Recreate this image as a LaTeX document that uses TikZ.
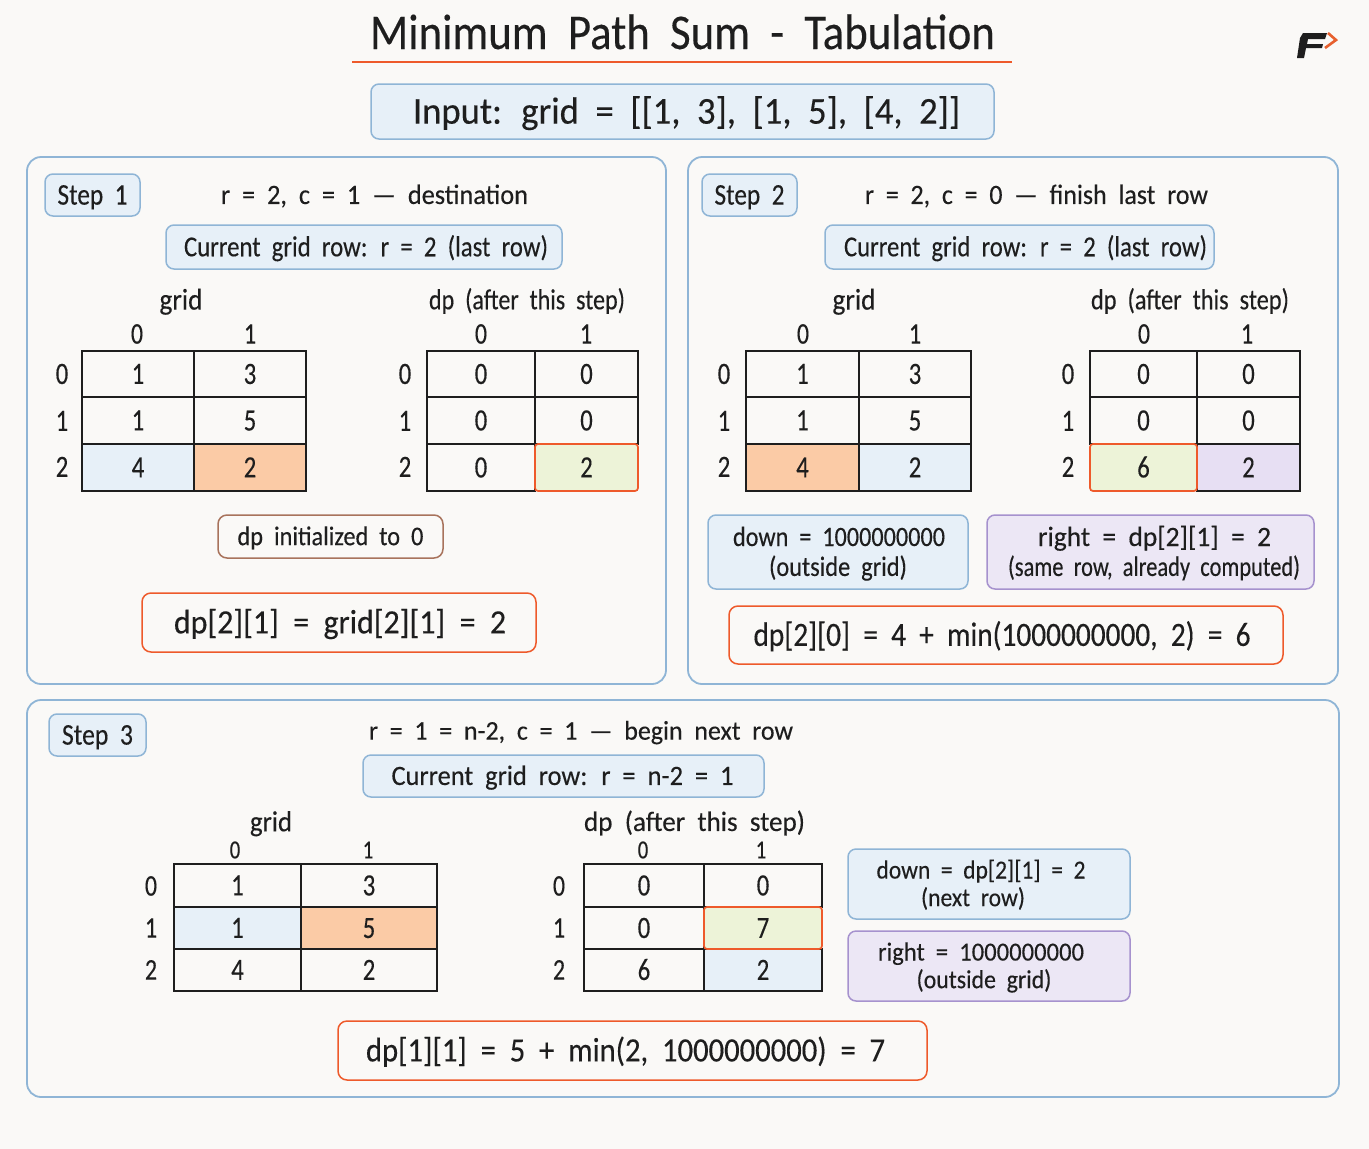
\documentclass[tikz,border=0pt]{standalone}
\usepackage{fontspec}
\usepackage{graphicx}
\setmainfont[FakeStretch=0.8,WordSpace=2.0,FakeBold=0.25]{Carlito}
\definecolor{bgc}{HTML}{FAF9F7}
\definecolor{bluel}{HTML}{8FB5D6}
\definecolor{bluef}{HTML}{E7F0F8}
\definecolor{orl}{HTML}{EE5A2B}
\definecolor{orf}{HTML}{FBCBA6}
\definecolor{grf}{HTML}{EDF3D8}
\definecolor{puf}{HTML}{E7DFF3}
\definecolor{pub}{HTML}{ECE7F5}
\definecolor{pul}{HTML}{A692CE}
\definecolor{brl}{HTML}{A8735C}
\definecolor{ink}{HTML}{1E1E1E}
\newcommand{\st}{\rule[-.25em]{0pt}{1.14em}}
\newcommand{\W}[2]{\resizebox{#1pt}{\height}{#2}}
\newcommand{\SH}[1]{\hspace*{#1pt}}
\tikzset{
 x=1pt,y=-1pt,
 txt/.style={text=ink,inner sep=0pt,align=center},
 fs/.style={font=\fontsize{#1}{#1}\selectfont},
 panel/.style={draw=bluel,line width=1.8pt,rounded corners=14pt},
 bluebox/.style={draw=bluel,fill=bluef,line width=1.5pt,rounded corners=8pt},
 purplebox/.style={draw=pul,fill=pub,line width=1.5pt,rounded corners=8pt},
 formula/.style={draw=orl,line width=1.5pt,rounded corners=9pt},
 brownbox/.style={draw=brl,line width=1.5pt,rounded corners=9pt},
 plain/.style={draw=ink,fill=bgc,line width=1.2pt},
 cblue/.style={draw=ink,fill=bluef,line width=1.2pt},
 corange/.style={draw=ink,fill=orf,line width=1.2pt},
 cpurple/.style={draw=ink,fill=puf,line width=1.2pt},
 cgreen/.style={draw=orl,fill=grf,line width=1.7pt,rounded corners=3pt},
}
\newcommand{\bx}[8]{\path[#6] (#2,#3) rectangle (#4,#5) node[midway,txt,fs=#7] (#1) {\st#8};}
\newcommand{\lb}[5]{\node[txt,fs=#4] (#1) at (#2,#3) {\st#5};}
\newcommand{\tbl}[9]{%
 \def\pr{#1}\def\xa{#2}\def\xb{#3}\def\xc{#4}\def\ya{#5}\def\yb{#6}\def\yc{#7}\def\yd{#8}\def\fz{#9}}
\newcommand{\cellrow}[7]{%
 \bx{\pr#1a}{\xa}{#2}{\xb}{#3}{#4}{\fz}{#5}
 \bx{\pr#1b}{\xb}{#2}{\xc}{#3}{#6}{\fz}{#7}}
\begin{document}
\begin{tikzpicture}
\useasboundingbox[fill=bgc] (0,0) rectangle (1369,1149);
% title
\node[txt,fs=50] (title) at (682.5,33) {\st\W{625}{Minimum Path Sum - Tabulation}};
\coordinate (ula) at (352,62); \coordinate (ulb) at (1012,62);
\draw[orl,line width=2.6pt] (ula) -- (ulb);
% logo
\fill[ink] (1303,33) -- (1327,33) -- (1325,39) -- (1308,39) -- (1307,44) -- (1323,44) -- (1322,48) -- (1306,48) -- (1304,58) -- (1297,58) -- (1300,38) -- cycle;
\draw[orl!85!brown,line width=2.6pt] (1328,33) -- (1336,40) -- (1325,48);
\bx{input}{371}{84}{994}{139}{bluebox}{38}{\SH{8}\W{547}{Input: grid = [[1, 3], [1, 5], [4, 2]]}}
% panels
\path[panel] (27,157) rectangle (666,684);
\path[panel] (688,157) rectangle (1338,684);
\path[panel] (27,700) rectangle (1339,1097);
% Step 1
\bx{s1b}{45}{174}{140}{216}{bluebox}{30}{\W{70}{Step 1}}
\lb{s1h}{374.5}{195}{28}{\W{307}{r = 2, c = 1 — destination}}
\bx{s1c}{166}{225}{562}{269}{bluebox}{29}{\SH{4}\W{364}{Current grid row: r = 2 (last row)}}
\lb{s1g}{181}{300}{30}{\W{43}{grid}}
\lb{s1d}{527}{300}{29}{\W{196}{dp (after this step)}}
\lb{s1gc0}{137}{334}{30}{0}\lb{s1gc1}{250}{334}{30}{1}
\lb{s1gr0}{62}{374}{31}{0}\lb{s1gr1}{62}{421}{31}{1}\lb{s1gr2}{62}{467}{31}{2}
\tbl{sa}{82}{194}{306}{351}{397}{444}{491}{31}
\cellrow{0}{351}{397}{plain}{1}{plain}{3}
\cellrow{1}{397}{444}{plain}{1}{plain}{5}
\cellrow{2}{444}{491}{cblue}{4}{corange}{2}
\lb{s1dc0}{481}{334}{30}{0}\lb{s1dc1}{586}{334}{30}{1}
\lb{s1dr0}{405}{374}{31}{0}\lb{s1dr1}{405}{421}{31}{1}\lb{s1dr2}{405}{467}{31}{2}
\tbl{sb}{427}{535}{638}{351}{397}{444}{491}{31}
\cellrow{0}{351}{397}{plain}{0}{plain}{0}
\cellrow{1}{397}{444}{plain}{0}{plain}{0}
\cellrow{2}{444}{491}{plain}{0}{cgreen}{2}
\bx{s1i}{218}{515}{443}{558}{brownbox}{27}{\W{186}{dp initialized to 0}}
\bx{s1f}{142}{593}{536}{652}{formula}{34}{\SH{2}\W{332}{dp[2][1] = grid[2][1] = 2}}
% Step 2
\bx{s2b}{702}{174}{797}{216}{bluebox}{30}{\W{70}{Step 2}}
\lb{s2h}{1036.5}{195}{28}{\W{343}{r = 2, c = 0 — finish last row}}
\bx{s2c}{825}{225}{1214}{269}{bluebox}{29}{\SH{12}\W{363}{Current grid row: r = 2 (last row)}}
\lb{s2g}{854}{300}{30}{\W{43}{grid}}
\lb{s2d}{1190}{300}{29}{\W{198}{dp (after this step)}}
\lb{s2gc0}{803}{334}{30}{0}\lb{s2gc1}{915}{334}{30}{1}
\lb{s2gr0}{724}{374}{31}{0}\lb{s2gr1}{724}{421}{31}{1}\lb{s2gr2}{724}{467}{31}{2}
\tbl{sc}{746}{859}{971}{351}{397}{444}{491}{31}
\cellrow{0}{351}{397}{plain}{1}{plain}{3}
\cellrow{1}{397}{444}{plain}{1}{plain}{5}
\cellrow{2}{444}{491}{corange}{4}{cblue}{2}
\lb{s2dc0}{1144}{334}{30}{0}\lb{s2dc1}{1247}{334}{30}{1}
\lb{s2dr0}{1068}{374}{31}{0}\lb{s2dr1}{1068}{421}{31}{1}\lb{s2dr2}{1068}{467}{31}{2}
\tbl{sd}{1090}{1197}{1300}{351}{397}{444}{491}{31}
\cellrow{0}{351}{397}{plain}{0}{plain}{0}
\cellrow{1}{397}{444}{plain}{0}{plain}{0}
\bx{sd2b}{1197}{444}{1300}{491}{cpurple}{31}{2}
\bx{sd2a}{1090}{444}{1197}{491}{cgreen}{31}{6}
\path[bluebox] (708,515) rectangle (968,589) node[midway,txt,fs=28] (s2dn) {\SH{2}\W{212}{\st down = 1000000000}\\[-3pt]\W{138}{\st (outside grid)}};
\path[purplebox] (987,515) rectangle (1314,589) node[midway,txt,fs=28] (s2rt) {\SH{8}\W{233}{\st right = dp[2][1] = 2}\\[-3pt]\SH{7}\W{292}{\st (same row, already computed)}};
\bx{s2f}{729}{606}{1283}{664}{formula}{34}{\SH{-8}\W{497}{dp[2][0] = 4 + min(1000000000, 2) = 6}}
% Step 3
\bx{s3b}{49}{714}{146}{756}{bluebox}{30}{\W{71}{Step 3}}
\lb{s3h}{581}{731}{27}{\W{424}{r = 1 = n-2, c = 1 — begin next row}}
\bx{s3c}{363}{755}{764}{797}{bluebox}{28}{\SH{-2}\W{342}{Current grid row: r = n-2 = 1}}
\lb{s3g}{271}{822}{29}{\W{42}{grid}}
\lb{s3d}{694.5}{822}{28}{\W{221}{dp (after this step)}}
\lb{s3gc0}{235}{850}{26}{0}\lb{s3gc1}{368}{850}{26}{1}
\lb{s3gr0}{151}{886}{30}{0}\lb{s3gr1}{151}{928}{30}{1}\lb{s3gr2}{151}{970}{30}{2}
\tbl{se}{174}{301}{437}{864}{907}{949}{991}{31}
\cellrow{0}{864}{907}{plain}{1}{plain}{3}
\cellrow{1}{907}{949}{cblue}{1}{corange}{5}
\cellrow{2}{949}{991}{plain}{4}{plain}{2}
\lb{s3dc0}{643}{850}{26}{0}\lb{s3dc1}{761}{850}{26}{1}
\lb{s3dr0}{559}{886}{30}{0}\lb{s3dr1}{559}{928}{30}{1}\lb{s3dr2}{559}{970}{30}{2}
\tbl{sf}{584}{704}{822}{864}{907}{949}{991}{31}
\cellrow{0}{864}{907}{plain}{0}{plain}{0}
\bx{sf2a}{584}{949}{704}{991}{plain}{31}{6}
\bx{sf2b}{704}{949}{822}{991}{cblue}{31}{2}
\bx{sf1a}{584}{907}{704}{949}{plain}{31}{0}
\bx{sf1b}{704}{907}{822}{949}{cgreen}{31}{7}
\path[bluebox] (848,849) rectangle (1130,919) node[midway,txt,fs=26] (s3dn) {\SH{-16}\W{209}{\st down = dp[2][1] = 2}\\[-3pt]\SH{-32}\W{104}{\st (next row)}};
\path[purplebox] (848,931) rectangle (1130,1001) node[midway,txt,fs=26] (s3rt) {\SH{-16}\W{206}{\st right = 1000000000}\\[-3pt]\SH{-10}\W{135}{\st (outside grid)}};
\bx{s3f}{338}{1021}{927}{1080}{formula}{34}{\SH{-14}\W{519}{dp[1][1] = 5 + min(2, 1000000000) = 7}}
\end{tikzpicture}
\end{document}
